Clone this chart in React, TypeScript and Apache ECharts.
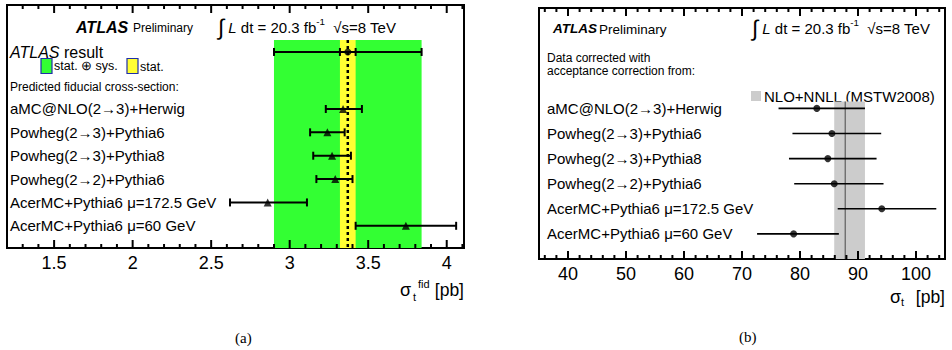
import React, { useEffect, useRef } from "react";
import * as echarts from "echarts";

// ---------- data ----------
const models = [
  "aMC@NLO(2→3)+Herwig",
  "Powheg(2→3)+Pythia6",
  "Powheg(2→3)+Pythia8",
  "Powheg(2→2)+Pythia6",
  "AcerMC+Pythia6 μ=172.5 GeV",
  "AcerMC+Pythia6 μ=60 GeV",
];

// panel (a): predicted fiducial cross-section [pb]
const fidCentral = [3.34, 3.24, 3.27, 3.29, 2.86, 3.74];
const fidLow = [3.23, 3.13, 3.15, 3.17, 2.62, 3.42];
const fidHigh = [3.46, 3.35, 3.39, 3.4, 3.11, 4.06];
// ATLAS measured fiducial cross-section
const atlasFid = [3.37];
const atlasStat = [0.05];
const atlasTotal = [0.47];

// panel (b): total cross-section [pb]
const sigCentral = [82.9, 85.5, 84.8, 85.9, 94.1, 78.9];
const sigLow = [76.3, 78.7, 78.1, 79.0, 86.5, 72.6];
const sigHigh = [91.2, 94.0, 93.2, 94.4, 103.5, 86.7];
const theoryCentral = [87.8];
const theoryLow = [85.9];
const theoryHigh = [91.2];

// ticks
const fidMajor = [1.5, 2, 2.5, 3, 3.5, 4];
const fidMinor = [1.3, 1.4, 1.6, 1.7, 1.8, 1.9, 2.1, 2.2, 2.3, 2.4, 2.6, 2.7, 2.8, 2.9, 3.1, 3.2, 3.3, 3.4, 3.6, 3.7, 3.8, 3.9, 4.1];
const sigMajor = [40, 50, 60, 70, 80, 90, 100];
const sigMinor = [36, 38, 42, 44, 46, 48, 52, 54, 56, 58, 62, 64, 66, 68, 72, 74, 76, 78, 82, 84, 86, 88, 92, 94, 96, 98, 102, 104];

// axis ranges
const fidMin = 1.2, fidMax = 4.11, fidSplit = 6, fidStep = 0.5;
const sigMin = 35, sigMax = 105, sigSplit = 7, sigStep = 10;
// row coordinates (model rows are 0..5)
const aYMin = -4.45, aYMax = 5.95, aAtlasRow = -2.44, aBandTop = -2.95;
const bYMin = -4, bYMax = 6, bBandTop = -0.27;

const FONT = "'Liberation Sans', Arial, Helvetica, sans-serif";

function xAxis(grid: number, min: number, max: number, split: number, step: number) {
  return {
    type: "value",
    gridIndex: grid,
    min,
    max,
    splitNumber: split,
    position: "bottom",
    axisLine: { show: true, onZero: false, lineStyle: { color: "#000", width: 2 } },
    axisTick: { show: false },
    axisLabel: {
      show: true,
      showMinLabel: false,
      showMaxLabel: false,
      color: "#000",
      fontSize: 18,
      fontFamily: FONT,
      margin: 6,
      formatter: (v: number) => (Math.abs(v / step - Math.round(v / step)) < 1e-6 ? String(v) : ""),
    },
    splitLine: { show: false },
    minorTick: { show: false },
  };
}

// frame tick marks at the bottom and top edge (same construction as the error-bar caps)
function tickSeries(xi: number, yi: number, values: number[], len: number, yTop: number, yBot: number) {
  return {
    type: "custom",
    xAxisIndex: xi,
    yAxisIndex: yi,
    z: 5,
    silent: true,
    data: values.map((v) => [v, yTop, yBot]),
    encode: { x: 0, y: [1, 2] },
    renderItem: (params: any, api: any) => {
      const t = api.coord([api.value(0), api.value(1)]);
      const b = api.coord([api.value(0), api.value(2)]);
      const st = { stroke: "#000", lineWidth: 2 };
      return {
        type: "group",
        children: [
          { type: "line", shape: { x1: b[0], y1: b[1], x2: b[0], y2: b[1] - len }, style: st },
          { type: "line", shape: { x1: t[0], y1: t[1], x2: t[0], y2: t[1] + len }, style: st },
        ],
      };
    },
  };
}

function bandSeries(xi: number, yi: number, lo: number, hi: number, top: number, bottom: number, color: string, z: number) {
  return {
    type: "custom",
    xAxisIndex: xi,
    yAxisIndex: yi,
    z,
    silent: true,
    data: [[lo, hi, top, bottom]],
    encode: { x: [0, 1], y: [2, 3] },
    renderItem: (params: any, api: any) => {
      const p1 = api.coord([api.value(0), api.value(2)]);
      const p2 = api.coord([api.value(1), api.value(3)]);
      return { type: "rect", shape: { x: p1[0], y: p1[1], width: p2[0] - p1[0], height: p2[1] - p1[1] }, style: { fill: color } };
    },
  };
}

function vLineSeries(xi: number, yi: number, x: number, top: number, bottom: number, color: string, width: number, dash: any, z: number) {
  return {
    type: "custom",
    xAxisIndex: xi,
    yAxisIndex: yi,
    z,
    silent: true,
    data: [[x, top, bottom]],
    encode: { x: 0, y: [1, 2] },
    renderItem: (params: any, api: any) => {
      const p1 = api.coord([api.value(0), api.value(1)]);
      const p2 = api.coord([api.value(0), api.value(2)]);
      return { type: "line", shape: { x1: p1[0], y1: p1[1], x2: p2[0], y2: p2[1] }, style: { stroke: color, lineWidth: width, lineDash: dash } };
    },
  };
}

function errSeries(xi: number, yi: number, lows: number[], highs: number[], caps: boolean, width: number) {
  return {
    type: "custom",
    xAxisIndex: xi,
    yAxisIndex: yi,
    z: 5,
    silent: true,
    data: lows.map((l, i) => [i, l, highs[i]]),
    encode: { x: [1, 2], y: 0 },
    renderItem: (params: any, api: any) => {
      const y = api.value(0);
      const a = api.coord([api.value(1), y]);
      const b = api.coord([api.value(2), y]);
      const st = { stroke: "#000", lineWidth: width };
      const ch: any[] = [{ type: "line", shape: { x1: a[0], y1: a[1], x2: b[0], y2: b[1] }, style: st }];
      if (caps) {
        ch.push({ type: "line", shape: { x1: a[0], y1: a[1] - 4, x2: a[0], y2: a[1] + 4 }, style: st });
        ch.push({ type: "line", shape: { x1: b[0], y1: b[1] - 4, x2: b[0], y2: b[1] + 4 }, style: st });
      }
      return { type: "group", children: ch };
    },
  };
}

function labelSeries(xi: number, yi: number, xmin: number, size: number, dx: number) {
  return {
    type: "custom",
    xAxisIndex: xi,
    yAxisIndex: yi,
    z: 6,
    silent: true,
    data: models.map((_, i) => [xmin, i]),
    encode: { x: 0, y: 1 },
    renderItem: (params: any, api: any) => {
      const p = api.coord([api.value(0), api.value(1)]);
      return {
        type: "text",
        x: p[0] + dx,
        y: p[1],
        style: { text: models[params.dataIndex], fill: "#000", font: `${size}px ${FONT}`, align: "left", verticalAlign: "middle", textAlign: "left", textVerticalAlign: "middle" },
      };
    },
  };
}

function txt(x: number, y: number, text: string, size: number, opts: any = {}) {
  return {
    type: "text",
    x,
    y,
    silent: true,
    style: {
      text,
      fill: "#000",
      font: `${opts.style || ""} ${opts.weight || ""} ${size}px ${opts.family || FONT}`,
      textAlign: opts.align || "left",
      textVerticalAlign: "middle",
      align: opts.align || "left",
      verticalAlign: "middle",
    },
  };
}

function lumiText(x: number, y: number, size: number) {
  return {
    type: "text",
    x,
    y,
    silent: true,
    style: {
      text: "{int|∫} {it|L} dt = 20.3 fb{sup|-1}  √s=8 TeV",
      fill: "#000",
      font: `${size}px ${FONT}`,
      textVerticalAlign: "middle",
      verticalAlign: "middle",
      rich: {
        int: { fontSize: size * 1.5, fontFamily: FONT, fill: "#000", fontWeight: 200 },
        it: { fontSize: size, fontStyle: "italic", fontFamily: FONT, fill: "#000" },
        sup: { fontSize: size * 0.65, fontFamily: FONT, fill: "#000", padding: [0, 0, size * 0.7, 0] },
      },
    },
  };
}

export default function App() {
  const ref = useRef<HTMLDivElement>(null);
  useEffect(() => {
    if (!ref.current) return;
    const chart = echarts.init(ref.current, null, { renderer: "svg" });
    const atlasData = [[aAtlasRow, atlasFid[0] - atlasTotal[0], atlasFid[0] + atlasTotal[0], atlasFid[0] - atlasStat[0], atlasFid[0] + atlasStat[0]]];
    const option: any = {
      animation: false,
      grid: [
        { left: 7, top: 5, width: 457, height: 243, show: true, borderColor: "#000", borderWidth: 2 },
        { left: 539, top: 8, width: 406, height: 251, show: true, borderColor: "#000", borderWidth: 2 },
      ],
      xAxis: [xAxis(0, fidMin, fidMax, fidSplit, fidStep), xAxis(1, sigMin, sigMax, sigSplit, sigStep)],
      yAxis: [
        { type: "value", gridIndex: 0, min: aYMin, max: aYMax, inverse: true, show: false, splitLine: { show: false } },
        { type: "value", gridIndex: 1, min: bYMin, max: bYMax, inverse: true, show: false, splitLine: { show: false } },
      ],
      series: [
        // panel (a)
        bandSeries(0, 0, atlasFid[0] - atlasTotal[0], atlasFid[0] + atlasTotal[0], aBandTop, aYMax, "#33ff33", 1),
        bandSeries(0, 0, atlasFid[0] - atlasStat[0], atlasFid[0] + atlasStat[0], aBandTop, aYMax, "#ffff33", 2),
        vLineSeries(0, 0, atlasFid[0], aBandTop, aYMax, "#000", 2.5, [3, 3], 3),
        {
          type: "custom",
          xAxisIndex: 0,
          yAxisIndex: 0,
          z: 5,
          silent: true,
          data: atlasData,
          encode: { x: [1, 2, 3, 4], y: 0 },
          renderItem: (params: any, api: any) => {
            const y = api.value(0);
            const pts = [1, 2, 3, 4].map((d) => api.coord([api.value(d), y]));
            const st = { stroke: "#000", lineWidth: 2 };
            const ch: any[] = [{ type: "line", shape: { x1: pts[0][0], y1: pts[0][1], x2: pts[1][0], y2: pts[1][1] }, style: st }];
            pts.forEach((p: number[]) => ch.push({ type: "line", shape: { x1: p[0], y1: p[1] - 4, x2: p[0], y2: p[1] + 4 }, style: st }));
            return { type: "group", children: ch };
          },
        },
        {
          type: "scatter",
          xAxisIndex: 0,
          yAxisIndex: 0,
          z: 6,
          silent: true,
          symbol: "circle",
          symbolSize: 7,
          itemStyle: { color: "#000" },
          data: [[atlasFid[0], aAtlasRow]],
        },
        errSeries(0, 0, fidLow, fidHigh, true, 2),
        {
          type: "scatter",
          xAxisIndex: 0,
          yAxisIndex: 0,
          z: 6,
          silent: true,
          symbol: "triangle",
          symbolSize: 8,
          itemStyle: { color: "#000" },
          data: fidCentral.map((v, i) => [v, i]),
        },
        labelSeries(0, 0, fidMin, 15, 3),
        tickSeries(0, 0, fidMajor, 8, aYMin, aYMax),
        tickSeries(0, 0, fidMinor, 4, aYMin, aYMax),
        // panel (b)
        bandSeries(1, 1, theoryLow[0], theoryHigh[0], bBandTop, bYMax, "#cccccc", 1),
        vLineSeries(1, 1, theoryCentral[0], bBandTop, bYMax, "#666666", 1.3, null, 2),
        errSeries(1, 1, sigLow, sigHigh, false, 1.6),
        {
          type: "scatter",
          xAxisIndex: 1,
          yAxisIndex: 1,
          z: 6,
          silent: true,
          symbol: "circle",
          symbolSize: 7,
          itemStyle: { color: "#000" },
          data: sigCentral.map((v, i) => [v, i]),
        },
        labelSeries(1, 1, sigMin, 15, 8),
        tickSeries(1, 1, sigMajor, 8, bYMin, bYMax),
        tickSeries(1, 1, sigMinor, 4, bYMin, bYMax),
      ],
      graphic: [
        // panel (a) header
        txt(76, 27, "ATLAS", 16, { style: "italic", weight: "bold" }),
        txt(133, 28, "Preliminary", 12),
        lumiText(218, 27, 15),
        {
          type: "text",
          x: 10,
          y: 52,
          silent: true,
          style: {
            text: "{i|ATLAS} result",
            fill: "#000",
            font: `16px ${FONT}`,
            textVerticalAlign: "middle",
            verticalAlign: "middle",
            rich: { i: { fontStyle: "italic", fontSize: 16, fontFamily: FONT, fill: "#000" } },
          },
        },
        { type: "rect", shape: { x: 41, y: 58.5, width: 11, height: 15 }, style: { fill: "#33ff33", stroke: "#1f2fa8", lineWidth: 1.2 } },
        txt(54, 66, "stat. ⊕ sys.", 12.5),
        { type: "rect", shape: { x: 127, y: 58.5, width: 11, height: 15 }, style: { fill: "#ffff33", stroke: "#1f2fa8", lineWidth: 1.2 } },
        txt(140, 67, "stat.", 12.5),
        txt(10, 87, "Predicted fiducial cross-section:", 12),
        // panel (a) axis title
        txt(464, 290, "[pb]", 17.5, { align: "right" }),
        txt(400, 290, "σ", 18),
        txt(418, 284, "fid", 11),
        txt(413, 297, "t", 11),
        txt(235, 338, "(a)", 15, { family: "'Liberation Serif', 'Times New Roman', serif" }),
        // panel (b) header
        txt(553, 28, "ATLAS", 13.5, { style: "italic", weight: "bold" }),
        txt(599, 29, "Preliminary", 13.5),
        lumiText(752, 28, 15),
        txt(547, 58, "Data corrected with", 12),
        txt(547, 71, "acceptance correction from:", 12),
        { type: "rect", shape: { x: 751, y: 91, width: 10, height: 10 }, style: { fill: "#cccccc" } },
        txt(764, 96, "NLO+NNLL (MSTW2008)", 15),
        // panel (b) axis title
        txt(945, 297, "[pb]", 17.5, { align: "right" }),
        txt(890, 297, "σ", 18),
        txt(901, 302, "t", 11),
        txt(739, 337, "(b)", 15, { family: "'Liberation Serif', 'Times New Roman', serif" }),
      ],
    };
    chart.setOption(option);
    return () => chart.dispose();
  }, []);
  return <div ref={ref} style={{ position: "fixed", left: 0, top: 0, width: 952, height: 350, background: "#fff" }} />;
}
